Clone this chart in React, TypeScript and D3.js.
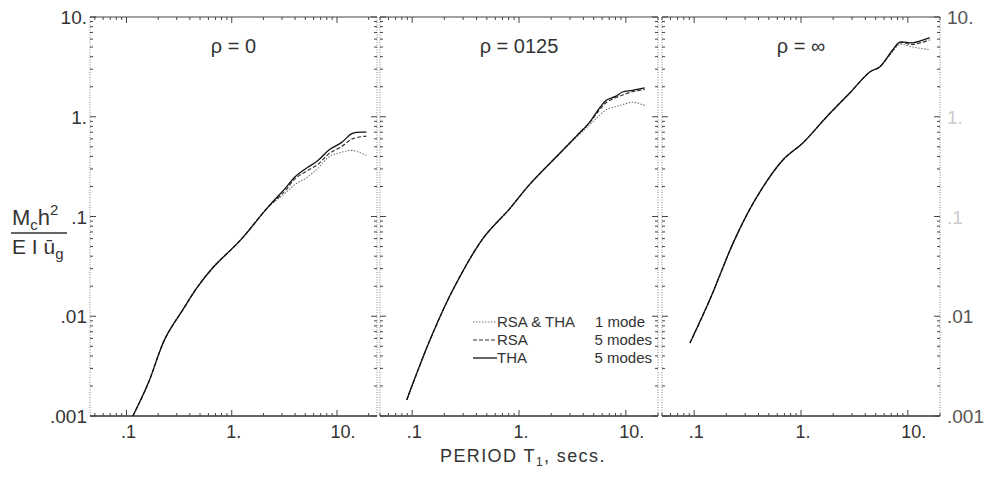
import React, { useEffect, useRef } from 'react'
import * as d3 from 'd3'

// rho = 0
const periods0 = [0.115, 0.16, 0.233, 0.346, 0.47, 0.667, 1.21, 2.18, 3.2, 4.0, 5.0, 6.5, 8.5, 11, 14, 19]
const oneMode0 = [0.001, 0.0021, 0.006, 0.0118, 0.0195, 0.031, 0.058, 0.122, 0.17, 0.21, 0.24, 0.3, 0.4, 0.44, 0.46, 0.41]
const rsaFive0 = [0.001, 0.0021, 0.006, 0.0118, 0.0195, 0.031, 0.058, 0.122, 0.18, 0.24, 0.28, 0.33, 0.43, 0.5, 0.6, 0.64]
const thaFive0 = [0.001, 0.0021, 0.006, 0.0118, 0.0195, 0.031, 0.058, 0.122, 0.19, 0.25, 0.3, 0.36, 0.47, 0.55, 0.68, 0.7]

// rho = .0125
const periods1 = [0.089, 0.147, 0.24, 0.459, 0.82, 1.26, 2.41, 3.5, 4.6, 5.6, 6.6, 8.0, 9.3, 11.5, 15]
const oneMode1 = [0.00145, 0.0058, 0.0183, 0.06, 0.12, 0.21, 0.43, 0.63, 0.83, 1.02, 1.18, 1.26, 1.32, 1.4, 1.3]
const rsaFive1 = [0.00145, 0.0058, 0.0183, 0.06, 0.12, 0.21, 0.43, 0.65, 0.88, 1.15, 1.4, 1.55, 1.65, 1.78, 1.88]
const thaFive1 = [0.00145, 0.0058, 0.0183, 0.06, 0.12, 0.21, 0.43, 0.65, 0.885, 1.2, 1.47, 1.6, 1.77, 1.84, 1.95]

// rho = infinity
const periods2 = [0.0914, 0.14, 0.24, 0.386, 0.676, 1.04, 1.74, 2.86, 4.4, 5.45, 7.2, 8.4, 11.1, 16]
const oneMode2 = [0.0054, 0.0146, 0.059, 0.157, 0.368, 0.546, 1.0, 1.73, 2.81, 3.16, 4.5, 5.3, 5.0, 4.7]
const rsaFive2 = [0.0054, 0.0146, 0.059, 0.157, 0.368, 0.546, 1.0, 1.73, 2.81, 3.16, 4.6, 5.5, 5.3, 5.9]
const thaFive2 = [0.0054, 0.0146, 0.059, 0.157, 0.368, 0.546, 1.0, 1.73, 2.81, 3.16, 4.67, 5.6, 5.5, 6.2]

const panelTitles = ['ρ = 0', 'ρ = 0125', 'ρ = ∞']
const yTicks = [0.001, 0.01, 0.1, 1, 10]
const yTickLabels = ['.001', '.01', '.1', '1.', '10.']
const xTicks = [0.1, 1, 10]
const xTickLabels = ['.1', '1.', '10.']
const legendNames = ['RSA & THA', 'RSA', 'THA']
const legendModes = ['1 mode', '5 modes', '5 modes']

const FONT = "'Liberation Sans', Arial, sans-serif"

function App() {
  const ref = useRef<SVGSVGElement>(null)

  useEffect(() => {
    drawChart(ref.current)
  }, [])

  return (
    <div style={{ position: 'absolute', left: 0, top: 0 }}>
      <svg ref={ref} width={990} height={477} style={{ display: 'block', background: '#fff' }}></svg>
    </div>
  )
}

function drawChart(el: SVGSVGElement | null) {
  if (!el) return
  const svg = d3.select(el)
  svg.selectAll('*').remove()

  const top = 17, bottom = 416
  const y = d3.scaleLog().domain([0.001, 10]).range([bottom, top])

  const panels = [
    { x0: 90, x1: 377, domain: [0.045, 24], periods: periods0, series: [oneMode0, rsaFive0, thaFive0] },
    { x0: 380, x1: 658, domain: [0.05, 20], periods: periods1, series: [oneMode1, rsaFive1, thaFive1] },
    { x0: 662, x1: 940, domain: [0.05, 20], periods: periods2, series: [oneMode2, rsaFive2, thaFive2] },
  ]
  const styles = [
    { dash: '1.5,1.5', color: '#777', width: 1.1 },
    { dash: '4,2', color: '#333', width: 1.2 },
    { dash: null, color: '#111', width: 1.3 },
  ]
  const isMajor = (v: number) => Math.abs(Math.log10(v) - Math.round(Math.log10(v))) < 1e-6

  panels.forEach((p, pi) => {
    const x = d3.scaleLog().domain(p.domain).range([p.x0, p.x1])
    const g = svg.append('g')

    // frame
    g.append('line').attr('x1', p.x0).attr('x2', p.x1).attr('y1', top).attr('y2', top)
      .attr('stroke', '#444').attr('stroke-width', 1.2)
    g.append('line').attr('x1', p.x0).attr('x2', p.x1).attr('y1', bottom).attr('y2', bottom)
      .attr('stroke', '#333').attr('stroke-width', 1.3)
    ;[p.x0, p.x1].forEach(xx => {
      g.append('line').attr('x1', xx).attr('x2', xx).attr('y1', top).attr('y2', bottom)
        .attr('stroke', '#888').attr('stroke-width', 1).attr('stroke-dasharray', '1,1.5')
    })

    // y ticks, both sides
    y.ticks().forEach(v => {
      const len = isMajor(v) ? 6 : 3
      const yy = y(v)
      g.append('line').attr('x1', p.x0).attr('x2', p.x0 + len).attr('y1', yy).attr('y2', yy)
        .attr('stroke', '#444').attr('stroke-width', 1)
      g.append('line').attr('x1', p.x1).attr('x2', p.x1 - len).attr('y1', yy).attr('y2', yy)
        .attr('stroke', '#444').attr('stroke-width', 1)
    })
    // x ticks, top and bottom
    x.ticks().forEach(v => {
      const len = isMajor(v) ? 6 : 3
      const xx = x(v)
      g.append('line').attr('x1', xx).attr('x2', xx).attr('y1', bottom).attr('y2', bottom - len)
        .attr('stroke', '#444').attr('stroke-width', 1)
      g.append('line').attr('x1', xx).attr('x2', xx).attr('y1', top).attr('y2', top + len)
        .attr('stroke', '#444').attr('stroke-width', 1)
    })

    // x tick labels
    xTicks.forEach((v, i) => {
      g.append('text').attr('x', x(v) + (i === 2 ? 6 : 2)).attr('y', 438)
        .attr('text-anchor', 'middle').attr('font-family', FONT).attr('font-size', 18)
        .attr('fill', '#333').text(xTickLabels[i])
    })

    // title
    g.append('text').attr('x', (p.x0 + p.x1) / 2).attr('y', 53)
      .attr('text-anchor', 'middle').attr('font-family', FONT).attr('font-size', 20)
      .attr('fill', '#333').text(panelTitles[pi])

    // curves
    const line = d3.line<[number, number]>().x(d => x(d[0])).y(d => y(d[1]))
      .curve(d3.curveCatmullRom.alpha(0.5))
    p.series.forEach((vals, si) => {
      const pts = p.periods.map((t, k) => [t, vals[k]] as [number, number])
      const path = g.append('path').attr('d', line(pts)).attr('fill', 'none')
        .attr('stroke', styles[si].color).attr('stroke-width', styles[si].width)
      if (styles[si].dash) path.attr('stroke-dasharray', styles[si].dash)
    })
  })

  // left y tick labels
  yTicks.forEach((v, i) => {
    svg.append('text').attr('x', 87).attr('y', y(v) + 7).attr('text-anchor', 'end')
      .attr('font-family', FONT).attr('font-size', 19).attr('fill', '#333').text(yTickLabels[i])
  })
  // right y tick labels
  yTicks.forEach((v, i) => {
    svg.append('text').attr('x', 947).attr('y', y(v) + 7).attr('text-anchor', 'start')
      .attr('font-family', FONT).attr('font-size', 19)
      .attr('fill', v === 1 || v === 0.1 ? '#ccc' : '#555').text(yTickLabels[i])
  })

  // y axis title: Mc h^2 / E I ug
  const yt = svg.append('g').attr('font-family', FONT).attr('fill', '#333')
  const num = yt.append('text').attr('x', 12).attr('y', 225).attr('font-size', 22)
  num.append('tspan').text('M')
  num.append('tspan').attr('font-size', 15).attr('dy', 5).text('c')
  num.append('tspan').attr('dy', -5).text('h')
  num.append('tspan').attr('font-size', 15).attr('dy', -10).text('2')
  yt.append('line').attr('x1', 11).attr('x2', 67).attr('y1', 233).attr('y2', 233)
    .attr('stroke', '#333').attr('stroke-width', 1.5)
  const den = yt.append('text').attr('x', 12).attr('y', 254).attr('font-size', 21)
  den.append('tspan').text('E I ū')
  den.append('tspan').attr('font-size', 15).attr('dy', 5).text('g')

  // x axis title
  const xt = svg.append('text').attr('x', 440).attr('y', 462).attr('font-family', FONT)
    .attr('font-size', 18).attr('fill', '#333').attr('letter-spacing', 1.4)
  xt.append('tspan').text('PERIOD T')
  xt.append('tspan').attr('font-size', 12).attr('dy', 4).text('1')
  xt.append('tspan').attr('dy', -4).text(', secs.')

  // legend
  const lg = svg.append('g').attr('font-family', FONT).attr('font-size', 15).attr('fill', '#333')
  legendNames.forEach((name, i) => {
    const yy = 322 + i * 18
    const l = lg.append('line').attr('x1', 473).attr('x2', 497).attr('y1', yy).attr('y2', yy)
      .attr('stroke', styles[i].color).attr('stroke-width', styles[i].width)
    if (styles[i].dash) l.attr('stroke-dasharray', styles[i].dash)
    lg.append('text').attr('x', 497).attr('y', yy + 5).text(name)
    lg.append('text').attr('x', i === 0 ? 645 : 652).attr('y', yy + 5).attr('text-anchor', 'end').text(legendModes[i])
  })
}

export default App
